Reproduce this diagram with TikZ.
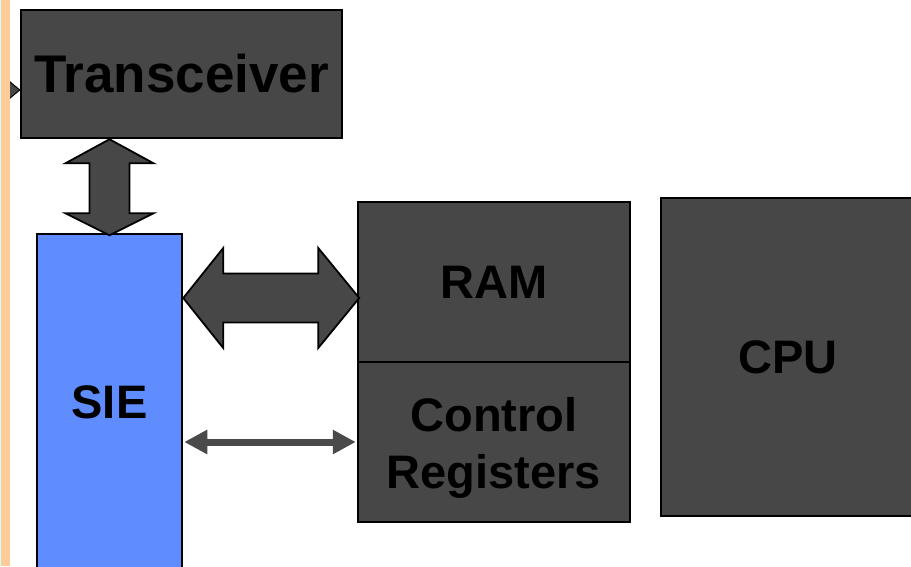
\documentclass[tikz,border=0pt]{standalone}
\usepackage{fontspec}
\setmainfont{Liberation Sans}
\usetikzlibrary{arrows.meta,calc}
\definecolor{boxgray}{HTML}{474747}
\definecolor{sieblue}{HTML}{5F8CFF}
\definecolor{barorange}{HTML}{FFCC99}
\definecolor{barcyan}{HTML}{CCFFFF}
\definecolor{arrowgray}{HTML}{4A4A4A}
\tikzset{
  blk/.style={draw=black, line width=2.5pt, fill=boxgray, inner sep=0pt, align=center,
    font=\fontsize{47}{57}\selectfont\bfseries, text=black},
  blockarrow/.style={draw=black, line width=1.8pt, fill=boxgray, line join=miter},
  thinarrow/.style={draw=arrowgray, line width=7pt,
    {Triangle[length=23pt,width=23pt]}-{Triangle[length=23pt,width=23pt]}, shorten <=1pt, shorten >=1pt}
}
\begin{document}
\begin{tikzpicture}[x=1pt,y=1pt]
\useasboundingbox (0,0) rectangle (911,-566);
% boxes
\node[blk, minimum width=321pt, minimum height=128pt,
  font=\fontsize{53}{60}\selectfont\bfseries] (trx) at (181.5,-74) {Transceiver};
\node[blk, fill=sieblue, minimum width=145pt, minimum height=336pt] (sie) at (109.5,-402) {SIE};
\node[blk, minimum width=272pt, minimum height=160pt] (ram) at (494,-282) {RAM};
\node[blk, minimum width=272pt, minimum height=160pt] (ctl) at (494,-442) {\rule{0pt}{46pt}Control\\Registers};
\node[blk, minimum width=254pt, minimum height=318pt] (cpu) at (788,-357) {CPU};
% vertical block arrow Transceiver <-> SIE
\draw[blockarrow] (trx.south -| sie.north) -- ++(44,-24) -- ++(-24,0) -- ++(0,-50) -- ++(24,0)
  -- ++(-44,-22) -- ++(-44,22) -- ++(24,0) -- ++(0,50) -- ++(-24,0) -- cycle;
% horizontal block arrow SIE <-> RAM
\coordinate (hc) at ([yshift=-16pt]ram.west);
\draw[blockarrow] (sie.east |- hc) -- ++(40,50) -- ++(0,-25.5) -- ++(95,0) -- ++(0,25.5)
  -- ++(41,-50) -- ++(-41,-50) -- ++(0,25.5) -- ++(-95,0) -- ++(0,-25.5) -- cycle;
% thin arrow SIE <-> Control Registers
\draw[thinarrow] (sie.east |- ctl.west) -- (ctl.west);
% incoming arrow on the left of the Transceiver
\coordinate (tin) at ([yshift=-16pt]trx.west);
\draw[blockarrow, line width=1pt] (tin) -- ++(-12,10) -- ++(0,-20) -- cycle;
% left bar
\fill[barorange] (1,0) rectangle (10,-566);
\fill[barcyan] (0,0) rectangle (1,-566);
\end{tikzpicture}
\end{document}
